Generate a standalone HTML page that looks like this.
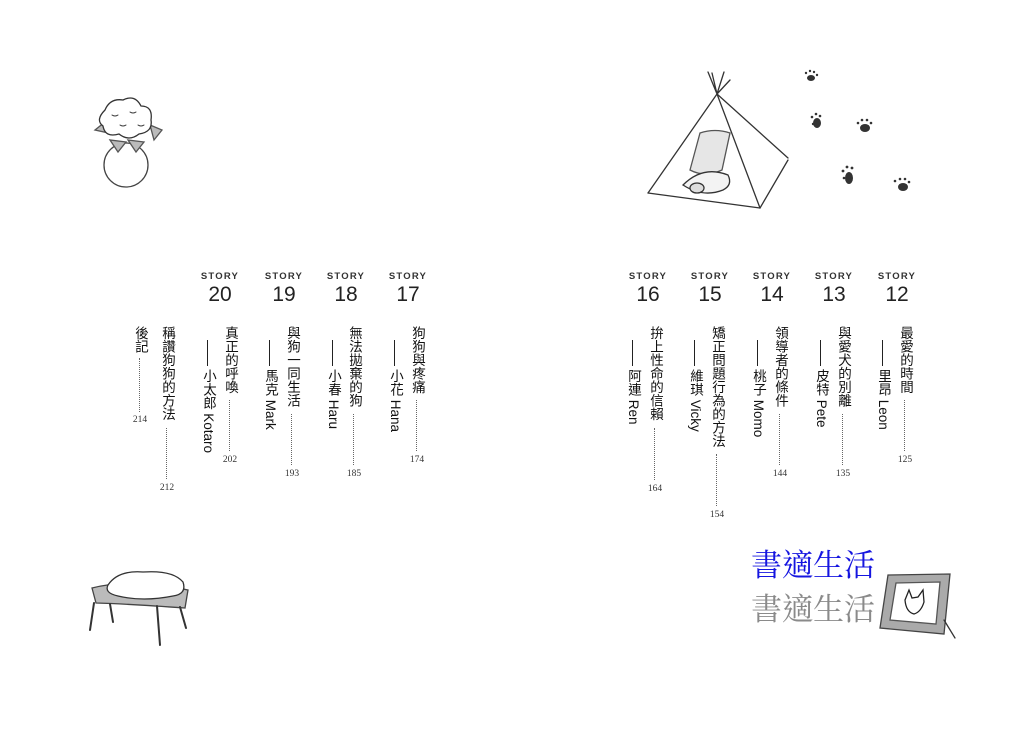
<!DOCTYPE html>
<html><head><meta charset="utf-8"><style>
html,body{margin:0;padding:0;background:#fff;}
body{width:1029px;height:729px;position:relative;overflow:hidden;font-family:"Liberation Sans","Noto Sans CJK TC",sans-serif;color:#111;}
.st{position:absolute;top:271px;width:50px;margin-left:-25px;text-align:center;font-size:9.5px;letter-spacing:1.2px;font-weight:bold;color:#333;}
.nm{position:absolute;top:283px;width:50px;margin-left:-25px;text-align:center;font-size:21px;color:#222;}
.t{position:absolute;top:326px;writing-mode:vertical-rl;font-size:13.5px;line-height:14px;width:14px;margin-left:-7px;color:#111;white-space:nowrap;}
.n{position:absolute;top:369px;writing-mode:vertical-rl;font-size:13.5px;line-height:14px;width:14px;margin-left:-7px;color:#111;white-space:nowrap;}
.ln{position:absolute;top:340px;width:0;height:26px;border-left:1.5px solid #222;}
.d{position:absolute;width:0;border-left:1.6px dotted #666;}
.p{position:absolute;width:30px;margin-left:-15px;text-align:center;font-family:"Liberation Serif",serif;font-size:9.5px;color:#333;}
.wm{position:absolute;font-family:"Noto Serif CJK TC","Noto Serif CJK SC",serif;font-size:31px;line-height:34px;}
</style></head><body>

<div class="st" style="left:648px">STORY</div><div class="nm" style="left:648px">16</div>
<div class="st" style="left:710px">STORY</div><div class="nm" style="left:710px">15</div>
<div class="st" style="left:772px">STORY</div><div class="nm" style="left:772px">14</div>
<div class="st" style="left:834px">STORY</div><div class="nm" style="left:834px">13</div>
<div class="st" style="left:897px">STORY</div><div class="nm" style="left:897px">12</div>

<div class="t" style="left:655px">拚上性命的信賴</div><div class="d" style="left:654px;top:428px;height:52px"></div><div class="p" style="left:655px;top:484px">164</div>
<div class="ln" style="left:632px"></div><div class="n" style="left:633px">阿連 Ren</div>

<div class="t" style="left:717px">矯正問題行為的方法</div><div class="d" style="left:716px;top:454px;height:52px"></div><div class="p" style="left:717px;top:510px">154</div>
<div class="ln" style="left:694px"></div><div class="n" style="left:695px">維琪 Vicky</div>

<div class="t" style="left:780px">領導者的條件</div><div class="d" style="left:779px;top:414px;height:51px"></div><div class="p" style="left:780px;top:469px">144</div>
<div class="ln" style="left:757px"></div><div class="n" style="left:758px">桃子 Momo</div>

<div class="t" style="left:843px">與愛犬的別離</div><div class="d" style="left:842px;top:414px;height:51px"></div><div class="p" style="left:843px;top:469px">135</div>
<div class="ln" style="left:820px"></div><div class="n" style="left:821px">皮特 Pete</div>

<div class="t" style="left:905px">最愛的時間</div><div class="d" style="left:904px;top:400px;height:51px"></div><div class="p" style="left:905px;top:455px">125</div>
<div class="ln" style="left:882px"></div><div class="n" style="left:883px">里昂 Leon</div>

<div class="st" style="left:220px">STORY</div><div class="nm" style="left:220px">20</div>
<div class="st" style="left:284px">STORY</div><div class="nm" style="left:284px">19</div>
<div class="st" style="left:346px">STORY</div><div class="nm" style="left:346px">18</div>
<div class="st" style="left:408px">STORY</div><div class="nm" style="left:408px">17</div>

<div class="t" style="left:230px">真正的呼喚</div><div class="d" style="left:229px;top:400px;height:51px"></div><div class="p" style="left:230px;top:455px">202</div>
<div class="ln" style="left:207px"></div><div class="n" style="left:208px">小太郎 Kotaro</div>

<div class="t" style="left:292px">與狗一同生活</div><div class="d" style="left:291px;top:414px;height:51px"></div><div class="p" style="left:292px;top:469px">193</div>
<div class="ln" style="left:269px"></div><div class="n" style="left:270px">馬克 Mark</div>

<div class="t" style="left:354px">無法拋棄的狗</div><div class="d" style="left:353px;top:414px;height:51px"></div><div class="p" style="left:354px;top:469px">185</div>
<div class="ln" style="left:332px"></div><div class="n" style="left:333px">小春 Haru</div>

<div class="t" style="left:417px">狗狗與疼痛</div><div class="d" style="left:416px;top:400px;height:51px"></div><div class="p" style="left:417px;top:455px">174</div>
<div class="ln" style="left:394px"></div><div class="n" style="left:395px">小花 Hana</div>

<div class="t" style="left:167px">稱讚狗狗的方法</div><div class="d" style="left:166px;top:428px;height:51px"></div><div class="p" style="left:167px;top:483px">212</div>
<div class="t" style="left:140px">後記</div><div class="d" style="left:139px;top:358px;height:54px"></div><div class="p" style="left:140px;top:415px">214</div>

<div class="wm" style="left:751px;top:546px;color:#1515e0">書適生活</div>
<div class="wm" style="left:751px;top:590px;color:#8a8a8a">書適生活</div>

<svg width="1029" height="729" style="position:absolute;left:0;top:0" fill="none" stroke="#333" stroke-width="1.3" stroke-linecap="round">
 <circle cx="126" cy="165" r="22" stroke="#444"/>
 <path d="M95 130 l10 -8 l8 12z M150 125 l12 5 l-8 10z M110 140 l8 12 l8 -10z M128 140 l8 12 l8 -10z" fill="#bbb" stroke="#555"/>
 <path d="M105 110 q5 -12 18 -10 q12 -6 18 6 q12 0 10 14 q2 12 -12 14 q-10 8 -20 0 q-14 4 -16 -8 q-8 -6 2 -16z" fill="#fff"/>
 <path d="M112 115 q3 2 6 0 M130 112 q3 2 6 0 M120 125 q3 2 6 0 M138 125 q3 2 6 0" stroke-width="1"/>
 <path d="M717 94 L648 193 M717 94 L788 158 M717 94 L760 208 M708 72 L717 94 L724 72 M712 73 L717 94 L730 80"/>
 <path d="M648 193 Q700 200 760 208 M760 208 L788 160"/>
 <path d="M700 133 Q715 128 730 133 L722 170 Q705 178 690 170z" fill="#e6e6e6" stroke="#555"/>
 <path d="M683 185 q20 -20 45 -10 q5 10 -5 15 q-20 8 -40 -5z" fill="#f3f3f3"/>
 <ellipse cx="697" cy="188" rx="7" ry="5" fill="#ddd"/>
 <g fill="#333" stroke="none">
  <ellipse cx="811" cy="78" rx="4" ry="3"/><circle cx="806" cy="73" r="1.2"/><circle cx="810" cy="71" r="1.2"/><circle cx="814" cy="72" r="1.2"/><circle cx="817" cy="75" r="1.2"/>
  <ellipse cx="817" cy="123" rx="4" ry="5"/><circle cx="812" cy="117" r="1.3"/><circle cx="816" cy="114" r="1.3"/><circle cx="820" cy="116" r="1.3"/><circle cx="813" cy="124" r="1.2"/>
  <ellipse cx="865" cy="128" rx="5" ry="4"/><circle cx="858" cy="123" r="1.3"/><circle cx="862" cy="120" r="1.3"/><circle cx="867" cy="120" r="1.3"/><circle cx="871" cy="123" r="1.3"/>
  <ellipse cx="849" cy="178" rx="4" ry="6"/><circle cx="843" cy="171" r="1.4"/><circle cx="847" cy="167" r="1.4"/><circle cx="852" cy="168" r="1.4"/><circle cx="844" cy="178" r="1.3"/>
  <ellipse cx="903" cy="187" rx="5" ry="4"/><circle cx="895" cy="181" r="1.3"/><circle cx="900" cy="179" r="1.3"/><circle cx="905" cy="179" r="1.3"/><circle cx="909" cy="182" r="1.3"/>
 </g>
 <path d="M92 588 Q130 578 188 590 L185 608 Q130 604 96 603z" fill="#bbb" stroke="#444"/>
 <path d="M108 585 q10 -15 35 -13 q30 -2 40 10 q4 12 -10 14 q-30 6 -55 0 q-14 -3 -10 -11z" fill="#fff"/>
 <path d="M94 603 L90 630 M110 604 L113 622 M180 607 L186 628 M157 606 L160 645" stroke-width="2"/>
 <path d="M888 575 L950 574 L944 634 L880 628z" fill="#aaa" stroke="#444"/>
 <path d="M896 583 L940 582 L936 624 L890 620z" fill="#fff" stroke="#555"/>
 <path d="M905 600 l4 -10 l3 8 l6 -1 l5 -7 l1 12 q-3 10 -10 12 q-8 -2 -9 -14z" stroke="#222"/>
 <path d="M944 620 L955 638"/>
</svg>
</body></html>
